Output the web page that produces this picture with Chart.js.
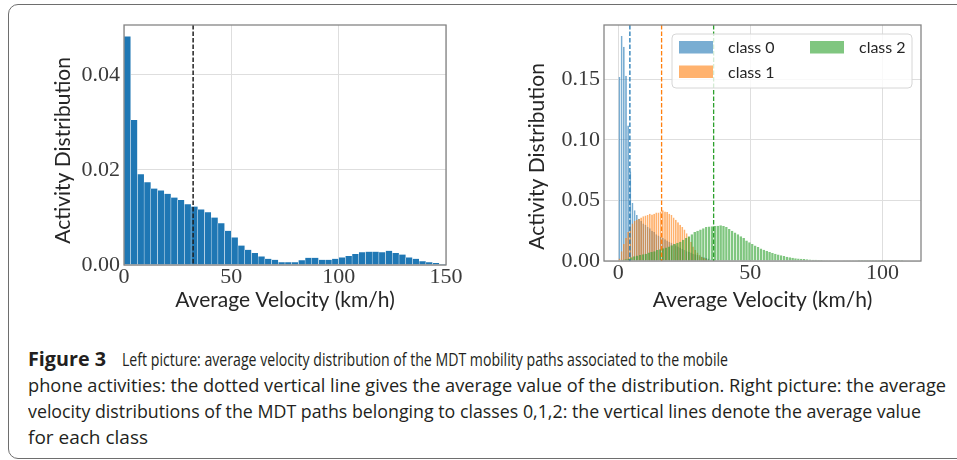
<!DOCTYPE html>
<html>
<head>
<meta charset="utf-8">
<script src="https://cdn.jsdelivr.net/npm/chart.js@4.4.1/dist/chart.umd.min.js"></script>
<style>
html, body { margin: 0; padding: 0; background: #fff; }
body { width: 957px; height: 460px; position: relative; overflow: hidden; }
#frame { position: absolute; left: 8px; top: 4px; width: 990px; height: 455px; border: 1.5px solid #6e6e6e; border-radius: 10px; box-sizing: border-box; }
.box { position: absolute; top: 20px; height: 300px; }
#caption { position: absolute; left: 28px; top: 346px; width: 920px; font-family: 'Open Sans'; font-size: 19px; line-height: 26px; color: #231f20; white-space: nowrap; }
#caption .line { position: relative; height: 26px; }
#caption span { display: inline-block; position: absolute; top: 0; transform-origin: 0 0; }
</style>
</head>
<body>
<div id="frame"></div>
<div class="box" style="left:40px;width:430px"><canvas id="leftChart" width="430" height="300"></canvas></div>
<div class="box" style="left:520px;width:420px"><canvas id="rightChart" width="420" height="300"></canvas></div>
<div id="caption">
  <div class="line"><span data-x="0" data-w="78"><b>Figure 3</b></span><span data-x="94" data-w="606">Left picture: average velocity distribution of the MDT mobility paths associated to the mobile</span></div>
  <div class="line"><span data-x="0" data-w="918">phone activities: the dotted vertical line gives the average value of the distribution. Right picture: the average</span></div>
  <div class="line"><span data-x="0" data-w="893">velocity distributions of the MDT paths belonging to classes 0,1,2: the vertical lines denote the average value</span></div>
  <div class="line"><span data-x="0" data-w="120">for each class</span></div>
</div>
<script>
// left picture: all paths, bins of 3.125 km/h from 0 to 150
const leftBinWidth = 3.125;
const leftValues = [0.0481, 0.0305, 0.0191, 0.0174, 0.0161, 0.0157, 0.0150, 0.0142, 0.0137, 0.0128,
  0.0123, 0.0117, 0.0111, 0.0100, 0.0088, 0.0072, 0.0058, 0.0041, 0.0032, 0.0025,
  0.0018, 0.0013, 0.0011, 0.0006, 0.0006, 0.0006, 0.0010, 0.0015, 0.0015, 0.0011,
  0.0011, 0.0013, 0.0016, 0.0019, 0.0023, 0.0027, 0.0028, 0.0028, 0.0027, 0.0030,
  0.0025, 0.0022, 0.0016, 0.0013, 0.0008, 0.0006, 0.0004, 0.0002];
const leftMean = 32.2;
const leftXTicks = [0, 50, 100, 150];
const leftYTicks = [0, 0.02, 0.04];

// right picture: classes 0, 1, 2
const classLabels = ['class 0', 'class 1', 'class 2'];
const classBinWidths = [0.82, 0.82, 1.09];
const class0Values = [0.152, 0.186, 0.177, 0.153, 0.112, 0.074, 0.048, 0.042, 0.038, 0.035,
  0.033, 0.031, 0.030, 0.028, 0.027, 0.025, 0.024, 0.022, 0.021, 0.020,
  0.019, 0.018, 0.017, 0.016, 0.015, 0.014, 0.013, 0.012, 0.011, 0.010,
  0.009, 0.008, 0.0075, 0.007, 0.006, 0.0055, 0.005, 0.004, 0.0035, 0.003,
  0.0025, 0.002, 0.0013, 0.0006];
const class1Values = [0.002, 0.008, 0.014, 0.019, 0.024, 0.028, 0.031, 0.033, 0.034, 0.035,
  0.036, 0.037, 0.0375, 0.038, 0.039, 0.0385, 0.039, 0.040, 0.040, 0.041,
  0.042, 0.041, 0.0405, 0.039, 0.038, 0.036, 0.034, 0.032, 0.030, 0.028,
  0.026, 0.023, 0.020, 0.016, 0.012, 0.009, 0.007, 0.005, 0.0035, 0.0025,
  0.0018, 0.0012, 0.0006, 0.0003];
const class2Values = [0.0005, 0.001, 0.0015, 0.002, 0.003, 0.004, 0.0045, 0.005, 0.0055, 0.006,
  0.007, 0.0075, 0.008, 0.009, 0.0098, 0.0105, 0.0112, 0.012, 0.013, 0.014,
  0.015, 0.016, 0.0175, 0.019, 0.0205, 0.022, 0.024, 0.025, 0.026, 0.027,
  0.028, 0.0285, 0.0288, 0.029, 0.0292, 0.0295, 0.029, 0.028, 0.0265, 0.025,
  0.0235, 0.022, 0.0205, 0.019, 0.017, 0.0155, 0.014, 0.0128, 0.0115, 0.0103,
  0.0092, 0.0083, 0.0075, 0.0067, 0.006, 0.0053, 0.0047, 0.0041, 0.0036, 0.0031,
  0.0027, 0.0023, 0.002, 0.0018, 0.0016, 0.0014, 0.0012, 0.0011, 0.001, 0.0009,
  0.0008, 0.0007, 0.0007, 0.0006, 0.0005, 0.0005, 0.0004, 0.0004, 0.0003, 0.0003,
  0.0002, 0.0002, 0.0002, 0.0001, 0.0001, 0.0001, 0.0001, 0.0001, 0.0001, 0.0001,
  0.0001, 0.00005, 0.00005, 0.00005, 0.00005, 0.00005, 0.00005, 0.00005, 0.00005, 0];
const classMeans = [4.4, 16.4, 36.1];
const rightXTicks = [0, 50, 100];
const rightYTicks = [0, 0.05, 0.10, 0.15];

const classColors = ['rgba(31,119,180,0.6)', 'rgba(255,127,14,0.6)', 'rgba(44,160,44,0.6)'];
const lineColors = ['#1f77b4', '#ff7f0e', '#2ca02c'];

// caption: squeeze every piece of text to the width it has in the original
document.querySelectorAll('#caption span').forEach(s => {
  const k = Number(s.dataset.w) / s.getBoundingClientRect().width;
  s.style.left = s.dataset.x + 'px';
  s.style.transform = 'scaleX(' + k + ')';
});

function binPoints(values, width) {
  return values.map((v, i) => ({ x: (i + 0.5) * width, y: v }));
}

const tickFont = { family: 'Liberation Serif', size: 22 };
const titleFont = { family: 'Lato', size: 21 };
const gridStyle = { color: '#dedede', lineWidth: 1, drawTicks: false };

function noPad(s) { s.paddingTop = 0; s.paddingBottom = 0; s.paddingLeft = 0; s.paddingRight = 0; }

// frame round the plot area and dashed mean lines
const framePlugin = {
  id: 'frame',
  afterDatasetsDraw(chart, args, opts) {
    const { ctx, chartArea } = chart;
    ctx.save();
    ctx.setLineDash([4.5, 2]);
    ctx.lineWidth = opts.lineWidth;
    opts.means.forEach((m, i) => {
      const x = chart.scales.x.getPixelForValue(m);
      ctx.strokeStyle = opts.colors[i];
      ctx.beginPath();
      ctx.moveTo(x, chartArea.top);
      ctx.lineTo(x, chartArea.bottom);
      ctx.stroke();
    });
    ctx.restore();
  },
  afterDraw(chart) {
    const { ctx, chartArea } = chart;
    ctx.save();
    ctx.strokeStyle = '#858585';
    ctx.lineWidth = 1.3;
    ctx.strokeRect(chartArea.left, chartArea.top, chartArea.right - chartArea.left, chartArea.bottom - chartArea.top);
    ctx.restore();
  }
};

const legendPlugin = {
  id: 'classLegend',
  afterDraw(chart) {
    const { ctx, chartArea } = chart;
    const w = 240, h = 54;
    const x0 = chartArea.right - 9 - w, y0 = chartArea.top + 9;
    ctx.save();
    ctx.beginPath();
    ctx.roundRect(x0, y0, w, h, 4);
    ctx.fillStyle = 'rgba(255,255,255,0.8)';
    ctx.fill();
    ctx.strokeStyle = '#d6d6d6';
    ctx.lineWidth = 1;
    ctx.stroke();
    const cells = [[0, 0], [0, 1], [1, 0]];
    ctx.font = '16px Lato';
    ctx.textBaseline = 'middle';
    chart.data.datasets.forEach((ds, i) => {
      const px = x0 + 7 + cells[i][0] * 131;
      const py = y0 + 7 + cells[i][1] * 24.5;
      ctx.fillStyle = ds.backgroundColor;
      ctx.fillRect(px, py, 34, 12.5);
      ctx.fillStyle = '#262626';
      ctx.fillText(ds.label, px + 49, py + 7);
    });
    ctx.restore();
  }
};

new Chart(document.getElementById('leftChart'), {
  type: 'bar',
  data: {
    datasets: [{
      label: 'all paths',
      data: binPoints(leftValues, leftBinWidth),
      backgroundColor: '#1f77b4',
      borderColor: 'rgba(255,255,255,0.85)',
      borderWidth: { left: 0.5, right: 0.5, top: 0, bottom: 0 },
      categoryPercentage: 1,
      barPercentage: 1
    }]
  },
  options: {
    responsive: false,
    animation: false,
    devicePixelRatio: 1,
    layout: { padding: { top: 5, right: 24, left: 0, bottom: 0 } },
    plugins: {
      legend: { display: false },
      tooltip: { enabled: false },
      frame: { means: [leftMean], colors: ['#222222'], lineWidth: 1.5 }
    },
    scales: {
      x: {
        type: 'linear', min: 0, max: 150, offset: false,
        afterBuildTicks: s => { s.ticks = leftXTicks.map(v => ({ value: v })); },
        afterFit: s => { s.height = 55; noPad(s); },
        ticks: { font: tickFont, color: '#3a3a3a', padding: -1, maxRotation: 0, callback: v => String(v) },
        grid: { ...gridStyle, offset: false },
        border: { display: false },
        title: { display: true, text: 'Average Velocity (km/h)', font: titleFont, color: '#262626', padding: { top: 0, bottom: 7 } }
      },
      y: {
        type: 'linear', min: 0, max: 0.0505,
        afterBuildTicks: s => { s.ticks = leftYTicks.map(v => ({ value: v })); },
        afterFit: s => { s.width = 84; noPad(s); },
        ticks: { font: tickFont, color: '#3a3a3a', padding: 4, callback: v => v.toFixed(2) },
        grid: gridStyle,
        border: { display: false },
        title: { display: true, text: 'Activity Distribution  ', font: titleFont, color: '#262626', padding: { top: 11, bottom: 0 } }
      }
    }
  },
  plugins: [framePlugin]
});

const hiddenX = { type: 'linear', min: -5.4, max: 114.6, offset: false, display: false };

new Chart(document.getElementById('rightChart'), {
  type: 'bar',
  data: {
    datasets: [class0Values, class1Values, class2Values].map((vals, i) => ({
      label: classLabels[i],
      data: binPoints(vals, classBinWidths[i]),
      xAxisID: ['x', 'x1', 'x2'][i],
      order: 3 - i,
      grouped: false,
      backgroundColor: classColors[i],
      borderColor: 'rgba(255,255,255,0.4)',
      borderWidth: { left: 0.4, right: 0, top: 0, bottom: 0 },
      inflateAmount: 0,
      categoryPercentage: 1,
      barPercentage: 1
    }))
  },
  options: {
    responsive: false,
    animation: false,
    devicePixelRatio: 1,
    layout: { padding: { top: 5, right: 19, left: 0, bottom: 0 } },
    plugins: {
      legend: { display: false },
      tooltip: { enabled: false },
      frame: { means: classMeans, colors: lineColors, lineWidth: 1.3 }
    },
    scales: {
      x: {
        type: 'linear', min: -5.4, max: 114.6, offset: false,
        afterBuildTicks: s => { s.ticks = rightXTicks.map(v => ({ value: v })); },
        afterFit: s => { s.height = 59; noPad(s); },
        ticks: { font: tickFont, color: '#3a3a3a', padding: -1, maxRotation: 0, callback: v => String(v) },
        grid: { ...gridStyle, offset: false },
        border: { display: false },
        title: { display: true, text: 'Average Velocity (km/h)', font: titleFont, color: '#262626', padding: { top: 0, bottom: 7 } }
      },
      x1: hiddenX,
      x2: hiddenX,
      y: {
        type: 'linear', min: 0, max: 0.195,
        afterBuildTicks: s => { s.ticks = rightYTicks.map(v => ({ value: v })); },
        afterFit: s => { s.width = 84; noPad(s); },
        ticks: { font: tickFont, color: '#3a3a3a', padding: 4, callback: v => v.toFixed(2) },
        grid: gridStyle,
        border: { display: false },
        title: { display: true, text: 'Activity Distribution     ', font: titleFont, color: '#262626', padding: { top: 5, bottom: 0 } }
      }
    }
  },
  plugins: [framePlugin, legendPlugin]
});
</script>
</body>
</html>
